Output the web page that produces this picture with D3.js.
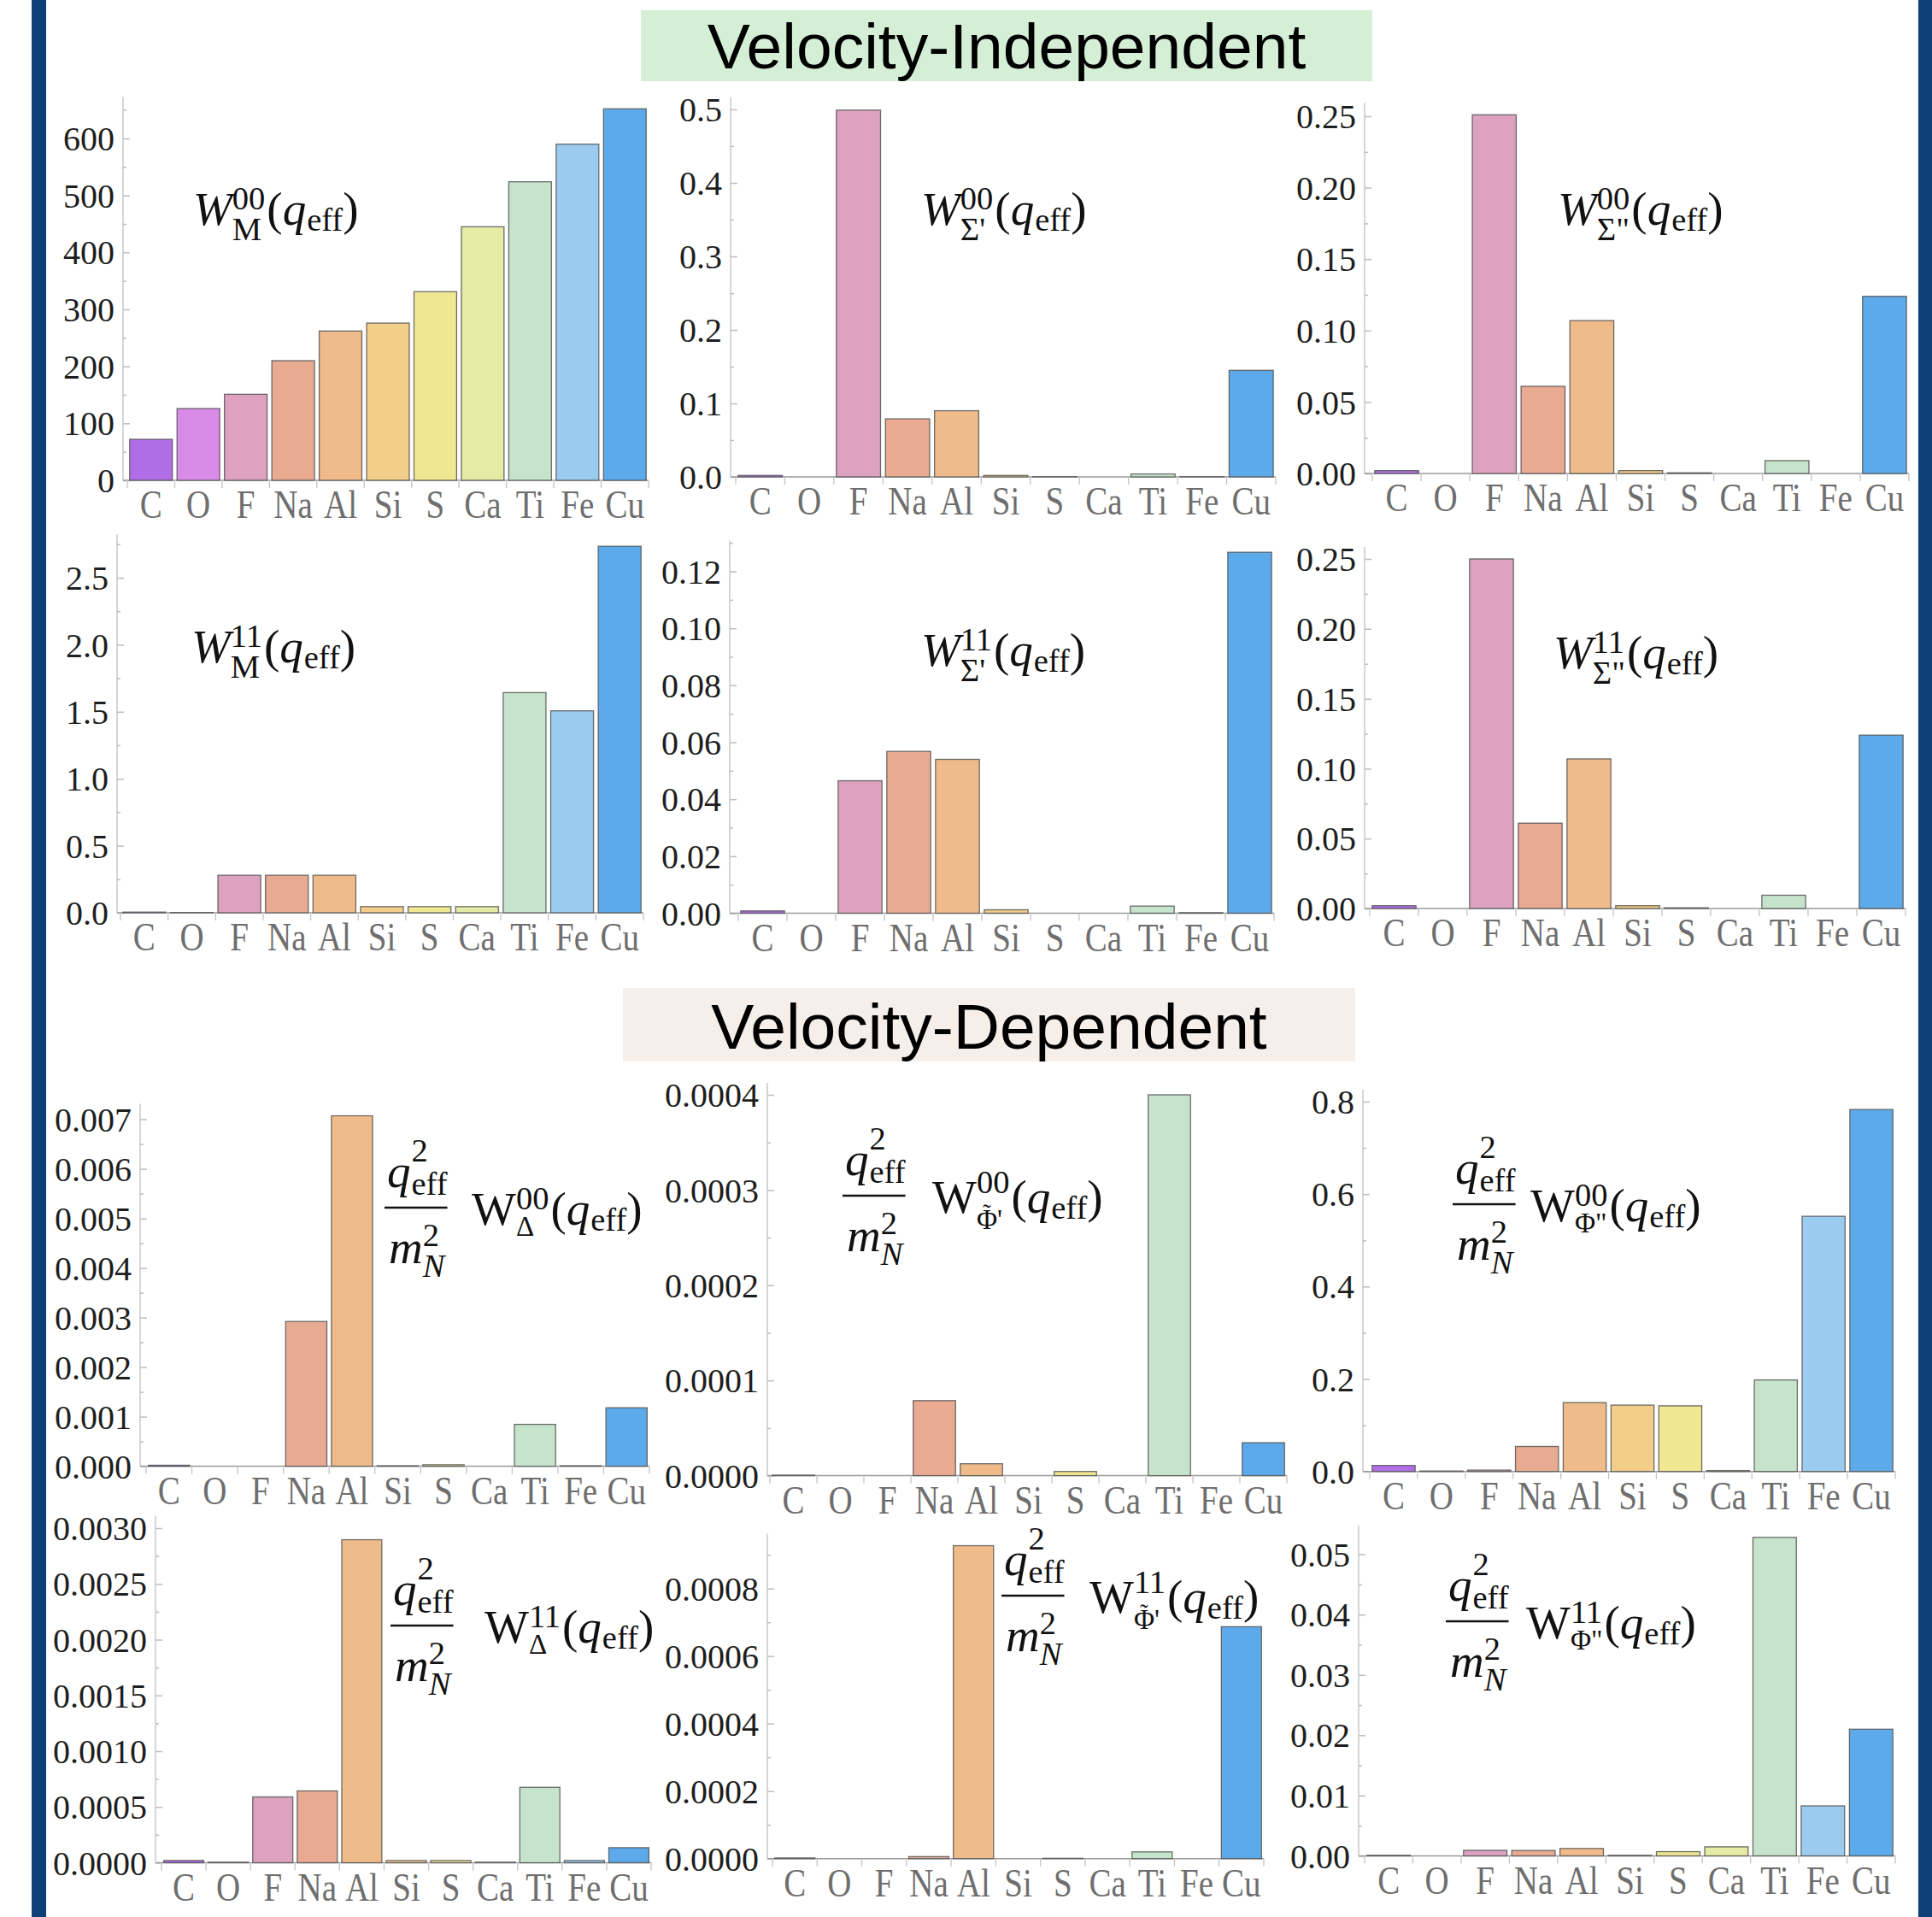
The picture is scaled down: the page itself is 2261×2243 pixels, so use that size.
<!DOCTYPE html>
<meta charset="utf-8">
<style>
body { margin: 0; background: #fff; }
.ytick text { font-family: "Liberation Serif", "Times New Roman", serif; font-size: 40px; fill: #1e1e1e; }
.ytick line { stroke: #bdbdbd; stroke-width: 1.5px; }
.xlab text { font-family: "Liberation Serif", "Times New Roman", serif; font-size: 39px; fill: #6e6e6e; }
.math text { font-family: "Liberation Serif", "Times New Roman", serif; fill: #111; }
.header { font-family: "Liberation Sans", Arial, sans-serif; font-size: 75px; fill: #000; }
.bar { stroke: #555; stroke-width: 1.3px; stroke-opacity: 0.85; }
</style>
<svg width="2261" height="2243"></svg>
<script src="https://d3js.org/d3.v7.min.js"></script>
<script>

var svg = d3.select("svg");

// categories and colours
var elements = ["C", "O", "F", "Na", "Al", "Si", "S", "Ca", "Ti", "Fe", "Cu"];
var barColors = ["#b06ee6", "#d98be8", "#dca2bf", "#e9aa92", "#f0bb8a", "#f3cd8a",
                 "#f0e793", "#e3eba4", "#c6e3cb", "#9ccbf0", "#5caaea"];

// velocity-independent responses
var wM00   = [72, 126, 151, 210, 262, 276, 331, 445, 524, 590, 652];
var wSp00  = [0.002, 0, 0.499, 0.079, 0.090, 0.002, 0.0003, 0, 0.004, 0.0003, 0.145];
var wSpp00 = [0.002, 0, 0.251, 0.061, 0.107, 0.002, 0.0005, 0, 0.009, 0, 0.124];
var wM11   = [0.005, 0.002, 0.28, 0.28, 0.28, 0.046, 0.046, 0.046, 1.643, 1.507, 2.735];
var wSp11  = [0.0008, 0, 0.0465, 0.0568, 0.054, 0.0012, 0, 0, 0.0025, 0.0002, 0.1267];
var wSpp11 = [0.002, 0, 0.25, 0.061, 0.107, 0.002, 0.0005, 0, 0.0095, 0, 0.124];

// velocity-dependent responses (times q^2/mN^2)
var wD00   = [0.00002, 0, 0, 0.00292, 0.00707, 0.00001, 0.00003, 0, 0.000845, 0.00001, 0.00118];
var wPt00  = [0.0000005, 0, 0, 0.0000788, 0.0000125, 0, 0.0000044, 0, 0.0004, 0, 0.0000346];
var wPpp00 = [0.013, 0.001, 0.003, 0.054, 0.149, 0.1435, 0.142, 0.002, 0.198, 0.552, 0.783];
var wD11   = [0.00002, 0.000005, 0.00059, 0.000644, 0.002896, 0.00002, 0.00002, 0.000005, 0.000676, 0.00002, 0.000135];
var wPt11  = [0.000002, 0, 0, 0.000006, 0.000927, 0, 0.000001, 0, 0.00002, 0, 0.000687];
var wPpp11 = [0.0001, 0, 0.00092, 0.0009, 0.00123, 0.0001, 0.0007, 0.0015, 0.0528, 0.00829, 0.021];

// tick values
var ticksM00   = [0, 100, 200, 300, 400, 500, 600];
var ticksSp00  = [0, 0.1, 0.2, 0.3, 0.4, 0.5];
var ticksSpp   = [0, 0.05, 0.10, 0.15, 0.20, 0.25];
var ticksM11   = [0, 0.5, 1.0, 1.5, 2.0, 2.5];
var ticksSp11  = [0, 0.02, 0.04, 0.06, 0.08, 0.10, 0.12];
var ticksD00   = [0, 0.001, 0.002, 0.003, 0.004, 0.005, 0.006, 0.007];
var ticksPt00  = [0, 0.0001, 0.0002, 0.0003, 0.0004];
var ticksPpp00 = [0, 0.2, 0.4, 0.6, 0.8];
var ticksD11   = [0, 0.0005, 0.0010, 0.0015, 0.0020, 0.0025, 0.0030];
var ticksPt11  = [0, 0.0002, 0.0004, 0.0006, 0.0008];
var ticksPpp11 = [0, 0.01, 0.02, 0.03, 0.04, 0.05];

// side rules
svg.append("rect").attr("x", 37).attr("y", 0).attr("width", 17).attr("height", 2243).attr("fill", "#0e3e76");
svg.append("rect").attr("x", 2245).attr("y", 0).attr("width", 16).attr("height", 2243).attr("fill", "#0e3e76");

// section headers
function header(x0, x1, y0, y1, fill, txt, base) {
  svg.append("rect").attr("x", x0).attr("y", y0).attr("width", x1 - x0).attr("height", y1 - y0).attr("fill", fill);
  svg.append("text").attr("class", "header").attr("x", (x0 + x1) / 2).attr("y", base)
    .attr("text-anchor", "middle").text(txt);
}
header(750, 1606, 12, 95, "#d5efd6", "Velocity-Independent", 80);
header(729, 1586, 1156, 1242, "#f6efe9", "Velocity-Dependent", 1227);

// panel layout: axis x, band range, baseline/top pixels for domain top
var panels = [
  {v: wM00,   t: ticksM00,   f: "d",   ax: 144,  xr: [149, 759],   yr: [562, 162],     top: 600,    lab: {x: 226, y: 263, sub: "M", sup: "00"}},
  {v: wSp00,  t: ticksSp00,  f: ".1f", ax: 855,  xr: [861, 1493],  yr: [558, 128],     top: 0.5,    lab: {x: 1078, y: 263, sub: "Σ'", sup: "00"}},
  {v: wSpp00, t: ticksSpp,   f: ".2f", ax: 1597, xr: [1606, 2234], yr: [554, 136],     top: 0.25,   lab: {x: 1823, y: 263, sub: "Σ\"", sup: "00"}},
  {v: wM11,   t: ticksM11,   f: ".1f", ax: 137,  xr: [141, 753],   yr: [1068, 676],    top: 2.5,    lab: {x: 224, y: 775, sub: "M", sup: "11"}},
  {v: wSp11,  t: ticksSp11,  f: ".2f", ax: 854,  xr: [864, 1491],  yr: [1068.5, 668.5], top: 0.12, lab: {x: 1078, y: 779, sub: "Σ'", sup: "11"}},
  {v: wSpp11, t: ticksSpp,   f: ".2f", ax: 1597, xr: [1603, 2230], yr: [1063, 654],    top: 0.25,   lab: {x: 1818, y: 782, sub: "Σ\"", sup: "11"}},
  {v: wD00,   t: ticksD00,   f: ".3f", ax: 164,  xr: [171, 760],   yr: [1715.6, 1309.6], top: 0.007, lab: {fx: 450, yb: 1413, x: 552, sub: "Δ", sup: "00"}},
  {v: wPt00,  t: ticksPt00,  f: ".4f", ax: 898,  xr: [901, 1506],  yr: [1726.6, 1281], top: 0.0004, lab: {fx: 986, yb: 1399, x: 1091, sub: "Φ'", tilde: true, sup: "00"}},
  {v: wPpp00, t: ticksPpp00, f: ".1f", ax: 1595, xr: [1603, 2218], yr: [1721.7, 1289], top: 0.8,    lab: {fx: 1700, yb: 1409, x: 1791, sub: "Φ\"", sup: "00"}},
  {v: wD11,   t: ticksD11,   f: ".4f", ax: 182,  xr: [189, 762],   yr: [2179.5, 1788], top: 0.003,  lab: {fx: 457, yb: 1902, x: 567, sub: "Δ", sup: "11"}},
  {v: wPt11,  t: ticksPt11,  f: ".4f", ax: 898,  xr: [904, 1479],  yr: [2174.7, 1858.7], top: 0.0008, lab: {fx: 1172, yb: 1867, x: 1275, sub: "Φ'", tilde: true, sup: "11"}},
  {v: wPpp11, t: ticksPpp11, f: ".2f", ax: 1590, xr: [1597, 2218], yr: [2171.5, 1818.6], top: 0.05, lab: {fx: 1692, yb: 1897, x: 1786, sub: "Φ\"", sup: "11"}}
];

var S = 55; // math font size

function put(g, txt, x, y, size, italic) {
  var t = g.append("text").attr("x", x).attr("y", y).attr("font-size", size)
    .attr("font-style", italic ? "italic" : null).text(txt);
  return t.node().getComputedTextLength();
}

function stack(g, x, y, sub, sup, subSize, subDy, supDy, subItalic, tilde) {
  var a;
  if (tilde) {
    // Phi with a small tilde over it, then the prime
    a = put(g, sub.charAt(0), x, y + subDy, subSize, subItalic);
    g.append("text").attr("x", x + a / 2).attr("y", y + subDy - 0.3 * subSize)
      .attr("font-size", subSize * 0.85).attr("text-anchor", "middle").text("˜");
    a += put(g, sub.slice(1), x + a, y + subDy, subSize, subItalic);
  } else {
    a = put(g, sub, x, y + subDy, subSize, subItalic);
  }
  var b = put(g, sup, x, y + supDy, 0.7 * S, false);
  return Math.max(a, b);
}

function wTerm(g, x, y, italic, L, greek) {
  x += put(g, "W", x, y, S, italic);
  if (L.tilde) x += stack(g, x, y, L.sub, L.sup, 0.6 * S, 0.34 * S, -0.42 * S, false, true);
  else if (greek) x += stack(g, x, y, L.sub, L.sup, 0.6 * S, 0.24 * S, -0.32 * S, false, false);
  else x += stack(g, x, y, L.sub, L.sup, 0.7 * S, 0.33 * S, -0.33 * S, false, false);
  x += 2;
  x += put(g, "(", x, y, S, false);
  x += put(g, "q", x, y, S, true) + 1;
  x += put(g, "eff", x, y + 0.12 * S, 0.7 * S, false);
  put(g, ")", x, y, S, false);
}

function fraction(g, x, yb) {
  var ny = yb - 0.445 * S;
  var qw = put(g, "q", x + 3, ny, S, true);
  var nw = 3 + qw + 1 + stack(g, x + 4 + qw, ny, "eff", "2", 0.7 * S, 0.18 * S, -0.53 * S, false, false);
  var dy = yb + 1.19 * S;
  var mw = put(g, "m", x + 5, dy, S, true);
  var dw = 5 + mw + stack(g, x + 5 + mw, dy, "N", "2", 0.7 * S, 0.29 * S, -0.38 * S, true, false);
  g.append("line").attr("x1", x).attr("x2", x + Math.max(nw, dw))
    .attr("y1", yb).attr("y2", yb).attr("stroke", "#111").attr("stroke-width", 2.5);
}

panels.forEach(function(p) {
  var g = svg.append("g");
  var xb = d3.scaleBand().domain(elements).range(p.xr).paddingInner(0.1).paddingOuter(0.05);
  var y = d3.scaleLinear().domain([0, p.top]).range(p.yr);
  var maxV = d3.max(p.v);

  // y axis line, extended a little above the top
  var yTop = Math.min(y(p.top), y(maxV)) - 14;
  g.append("line").attr("x1", p.ax).attr("x2", p.ax).attr("y1", y(0)).attr("y2", yTop)
    .attr("stroke", "#c9c9c9").attr("stroke-width", 1.5);

  var step = p.t[1] - p.t[0];
  var minor = p.t.map(function(d) { return d + step / 2; }).filter(function(d) { return y(d) > yTop; });
  g.append("g").attr("class", "ytick").attr("transform", "translate(" + p.ax + ",0)")
    .call(d3.axisLeft(y).tickValues(minor).tickSize(-4).tickFormat(""))
    .call(function(a) { a.select(".domain").remove(); });
  g.append("g").attr("class", "ytick").attr("transform", "translate(" + p.ax + ",0)")
    .call(d3.axisLeft(y).tickValues(p.t).tickFormat(d3.format(p.f)).tickSize(-8).tickPadding(10))
    .call(function(a) { a.select(".domain").remove(); a.selectAll("text").attr("dy", "0.34em"); });

  // x axis
  var base = y(0);
  g.append("line").attr("x1", p.ax).attr("x2", p.xr[1]).attr("y1", base).attr("y2", base)
    .attr("stroke", "#9a9a9a").attr("stroke-width", 1.5);
  var gap = xb.step() - xb.bandwidth();
  var bounds = elements.map(function(e) { return xb(e) - gap / 2; });
  bounds.push(xb(elements[elements.length - 1]) + xb.bandwidth() + gap / 2);
  g.selectAll(".bnd").data(bounds).enter().append("line")
    .attr("x1", function(d) { return d; }).attr("x2", function(d) { return d; })
    .attr("y1", base).attr("y2", base + 9).attr("stroke", "#c4c4c4").attr("stroke-width", 1.3);

  g.append("g").attr("class", "xlab").attr("transform", "translate(0," + base + ")")
    .call(d3.axisBottom(xb).tickSize(0).tickPadding(0))
    .call(function(a) {
      a.select(".domain").remove();
      a.selectAll("text").attr("y", null).attr("dy", null)
        .attr("transform", "translate(0,44) scale(1,1.2)");
    });

  // bars
  g.selectAll(".bar").data(p.v).enter().append("rect").attr("class", "bar")
    .attr("x", function(d, i) { return xb(elements[i]); })
    .attr("width", xb.bandwidth())
    .attr("y", function(d) { return y(d); })
    .attr("height", function(d) { return base - y(d); })
    .attr("fill", function(d, i) { return barColors[i]; });

  // label
  var m = svg.append("g").attr("class", "math");
  var L = p.lab;
  if (L.fx === undefined) {
    wTerm(m, L.x, L.y, true, L, false);
  } else {
    fraction(m, L.fx, L.yb);
    wTerm(m, L.x, L.yb + 20, false, L, true);
  }
});

</script>
